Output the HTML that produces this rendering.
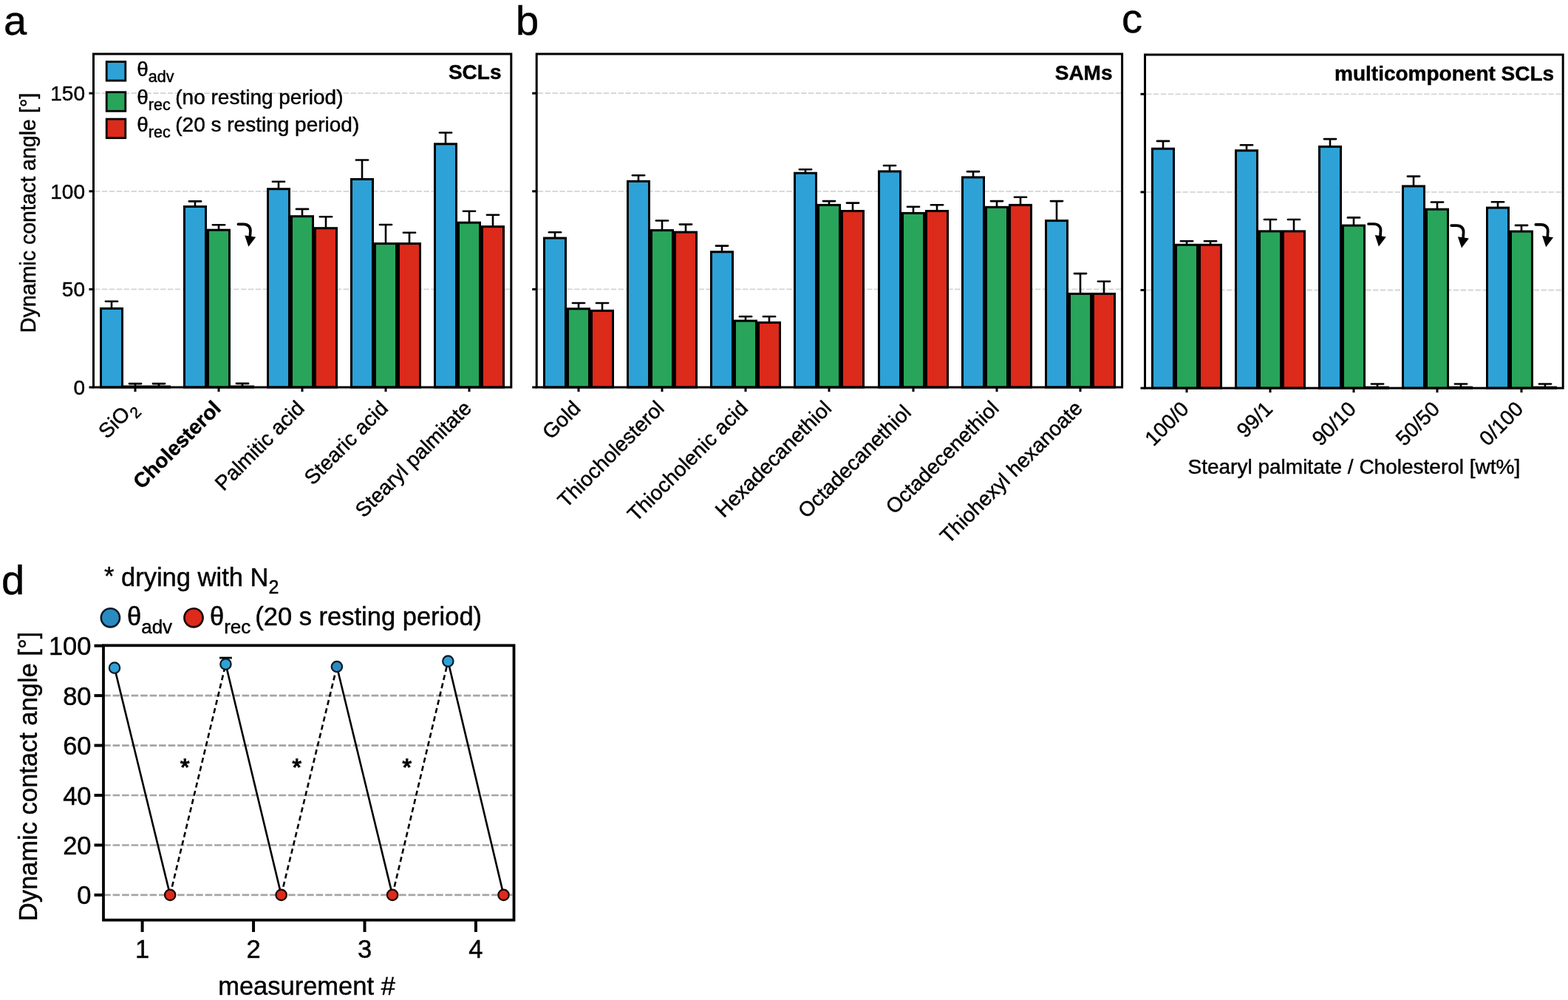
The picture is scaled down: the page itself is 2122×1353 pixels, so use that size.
<!DOCTYPE html>
<html><head><meta charset="utf-8"><title>Dynamic contact angle</title><style>html,body{margin:0;padding:0;background:#fff;width:2122px;height:1353px;overflow:hidden}svg{display:block}text{fill:#000;stroke:#000;stroke-width:0.45px}</style></head><body>
<svg width="2122" height="1353" viewBox="0 0 2122 1353" font-family="&quot;Liberation Sans&quot;, Arial, Helvetica, sans-serif">
<rect width="2122" height="1353" fill="#fff"/>
<text x="5" y="47" font-size="56">a</text>
<text x="698" y="46.5" font-size="56">b</text>
<text x="1518" y="44.3" font-size="56">c</text>
<text x="2" y="803.5" font-size="56">d</text>
<line x1="128" y1="391.4" x2="690.3" y2="391.4" stroke="#d4d4d4" stroke-width="1.8" stroke-dasharray="7.4 2.5"/>
<line x1="128" y1="258.8" x2="690.3" y2="258.8" stroke="#d4d4d4" stroke-width="1.8" stroke-dasharray="7.4 2.5"/>
<line x1="128" y1="126.2" x2="690.3" y2="126.2" stroke="#d4d4d4" stroke-width="1.8" stroke-dasharray="7.4 2.5"/>
<rect x="136.5" y="417.4" width="29" height="106.6" fill="#2ea2d6" stroke="#000" stroke-width="3"/>
<line x1="151" y1="416.4" x2="151" y2="407.7" stroke="#000" stroke-width="2.6"/>
<line x1="142.9" y1="407.7" x2="159.1" y2="407.7" stroke="#000" stroke-width="2.6" stroke-linecap="round"/>
<line x1="167" y1="523.5" x2="199" y2="523.5" stroke="#000" stroke-width="4"/>
<line x1="183" y1="522.5" x2="183" y2="519.1" stroke="#000" stroke-width="2.6"/>
<line x1="174.9" y1="519.1" x2="191.1" y2="519.1" stroke="#000" stroke-width="2.6" stroke-linecap="round"/>
<line x1="199" y1="523.5" x2="231" y2="523.5" stroke="#000" stroke-width="4"/>
<line x1="215" y1="522.5" x2="215" y2="519.1" stroke="#000" stroke-width="2.6"/>
<line x1="206.9" y1="519.1" x2="223.1" y2="519.1" stroke="#000" stroke-width="2.6" stroke-linecap="round"/>
<line x1="183" y1="524" x2="183" y2="530" stroke="#000" stroke-width="3"/>
<rect x="249.5" y="279.5" width="29" height="244.5" fill="#2ea2d6" stroke="#000" stroke-width="3"/>
<line x1="264" y1="278.5" x2="264" y2="272.4" stroke="#000" stroke-width="2.6"/>
<line x1="255.9" y1="272.4" x2="272.1" y2="272.4" stroke="#000" stroke-width="2.6" stroke-linecap="round"/>
<rect x="281.5" y="311.2" width="29" height="212.8" fill="#28a55a" stroke="#000" stroke-width="3"/>
<line x1="296" y1="310.2" x2="296" y2="304.2" stroke="#000" stroke-width="2.6"/>
<line x1="287.9" y1="304.2" x2="304.1" y2="304.2" stroke="#000" stroke-width="2.6" stroke-linecap="round"/>
<line x1="312" y1="523.5" x2="344" y2="523.5" stroke="#000" stroke-width="4"/>
<line x1="328" y1="522.5" x2="328" y2="518.9" stroke="#000" stroke-width="2.6"/>
<line x1="319.9" y1="518.9" x2="336.1" y2="518.9" stroke="#000" stroke-width="2.6" stroke-linecap="round"/>
<line x1="296" y1="524" x2="296" y2="530" stroke="#000" stroke-width="3"/>
<rect x="362.5" y="255.7" width="29" height="268.3" fill="#2ea2d6" stroke="#000" stroke-width="3"/>
<line x1="377" y1="254.7" x2="377" y2="245.8" stroke="#000" stroke-width="2.6"/>
<line x1="368.9" y1="245.8" x2="385.1" y2="245.8" stroke="#000" stroke-width="2.6" stroke-linecap="round"/>
<rect x="394.5" y="292.7" width="29" height="231.3" fill="#28a55a" stroke="#000" stroke-width="3"/>
<line x1="409" y1="291.7" x2="409" y2="282.9" stroke="#000" stroke-width="2.6"/>
<line x1="400.9" y1="282.9" x2="417.1" y2="282.9" stroke="#000" stroke-width="2.6" stroke-linecap="round"/>
<rect x="426.5" y="308.7" width="29" height="215.3" fill="#dc2a1b" stroke="#000" stroke-width="3"/>
<line x1="441" y1="307.7" x2="441" y2="293.2" stroke="#000" stroke-width="2.6"/>
<line x1="432.9" y1="293.2" x2="449.1" y2="293.2" stroke="#000" stroke-width="2.6" stroke-linecap="round"/>
<line x1="409" y1="524" x2="409" y2="530" stroke="#000" stroke-width="3"/>
<rect x="475.5" y="242.5" width="29" height="281.5" fill="#2ea2d6" stroke="#000" stroke-width="3"/>
<line x1="490" y1="241.5" x2="490" y2="216.5" stroke="#000" stroke-width="2.6"/>
<line x1="481.9" y1="216.5" x2="498.1" y2="216.5" stroke="#000" stroke-width="2.6" stroke-linecap="round"/>
<rect x="507.5" y="329.6" width="29" height="194.4" fill="#28a55a" stroke="#000" stroke-width="3"/>
<line x1="522" y1="328.6" x2="522" y2="304" stroke="#000" stroke-width="2.6"/>
<line x1="513.9" y1="304" x2="530.1" y2="304" stroke="#000" stroke-width="2.6" stroke-linecap="round"/>
<rect x="539.5" y="329.6" width="29" height="194.4" fill="#dc2a1b" stroke="#000" stroke-width="3"/>
<line x1="554" y1="328.6" x2="554" y2="314.7" stroke="#000" stroke-width="2.6"/>
<line x1="545.9" y1="314.7" x2="562.1" y2="314.7" stroke="#000" stroke-width="2.6" stroke-linecap="round"/>
<line x1="522" y1="524" x2="522" y2="530" stroke="#000" stroke-width="3"/>
<rect x="588.5" y="194.8" width="29" height="329.2" fill="#2ea2d6" stroke="#000" stroke-width="3"/>
<line x1="603" y1="193.8" x2="603" y2="179.5" stroke="#000" stroke-width="2.6"/>
<line x1="594.9" y1="179.5" x2="611.1" y2="179.5" stroke="#000" stroke-width="2.6" stroke-linecap="round"/>
<rect x="620.5" y="301.2" width="29" height="222.8" fill="#28a55a" stroke="#000" stroke-width="3"/>
<line x1="635" y1="300.2" x2="635" y2="285.7" stroke="#000" stroke-width="2.6"/>
<line x1="626.9" y1="285.7" x2="643.1" y2="285.7" stroke="#000" stroke-width="2.6" stroke-linecap="round"/>
<rect x="652.5" y="306.6" width="29" height="217.4" fill="#dc2a1b" stroke="#000" stroke-width="3"/>
<line x1="667" y1="305.6" x2="667" y2="290.7" stroke="#000" stroke-width="2.6"/>
<line x1="658.9" y1="290.7" x2="675.1" y2="290.7" stroke="#000" stroke-width="2.6" stroke-linecap="round"/>
<line x1="635" y1="524" x2="635" y2="530" stroke="#000" stroke-width="3"/>
<rect x="126.5" y="73" width="565.3" height="451" fill="none" stroke="#000" stroke-width="3"/>
<line x1="120.5" y1="524" x2="126.5" y2="524" stroke="#000" stroke-width="3"/>
<text x="115" y="534" text-anchor="end" font-size="28">0</text>
<line x1="120.5" y1="391.4" x2="126.5" y2="391.4" stroke="#000" stroke-width="3"/>
<text x="115" y="401.4" text-anchor="end" font-size="28">50</text>
<line x1="120.5" y1="258.8" x2="126.5" y2="258.8" stroke="#000" stroke-width="3"/>
<text x="115" y="268.8" text-anchor="end" font-size="28">100</text>
<line x1="120.5" y1="126.2" x2="126.5" y2="126.2" stroke="#000" stroke-width="3"/>
<text x="115" y="136.2" text-anchor="end" font-size="28">150</text>
<text x="678.5" y="107.3" text-anchor="end" font-size="28" font-weight="bold">SCLs</text>
<text x="186.47" y="552.94" text-anchor="end" font-size="28" transform="rotate(-45 186.47 552.94)">SiO<tspan font-size="21" dy="8.5" dx="0.6">2</tspan></text>
<text x="300.59" y="554" text-anchor="end" font-size="28" font-weight="bold" transform="rotate(-45 300.59 554)">Cholesterol</text>
<text x="413.65" y="554" text-anchor="end" font-size="28" transform="rotate(-45 413.65 554)">Palmitic acid</text>
<text x="526.71" y="554" text-anchor="end" font-size="28" transform="rotate(-45 526.71 554)">Stearic acid</text>
<text x="639.77" y="554" text-anchor="end" font-size="28" transform="rotate(-45 639.77 554)">Stearyl palmitate</text>
<path d="M322.4 303.3 L329.4 303.3 Q338.9 303.6 338.9 312.3 L338.4 319.3" fill="none" stroke="#000" stroke-width="3.7" stroke-linecap="round"/><polygon points="331.2,318.4 346.2,320.7 336.3,333.8" fill="#000"/>
<rect x="144.2" y="83.5" width="25.6" height="25.6" fill="#2ea2d6" stroke="#000" stroke-width="2.8"/>
<text x="185.2" y="102.7" font-size="28">θ<tspan font-size="21.5" dy="8.4">adv</tspan><tspan dy="-8.4" dx="-1.2"></tspan></text>
<rect x="144.2" y="124.7" width="25.6" height="25.6" fill="#28a55a" stroke="#000" stroke-width="2.8"/>
<text x="185.2" y="140.5" font-size="28">θ<tspan font-size="21.5" dy="8.4">rec</tspan><tspan dy="-8.4" dx="-1.2"> (no resting period)</tspan></text>
<rect x="144.2" y="161.1" width="25.6" height="25.6" fill="#dc2a1b" stroke="#000" stroke-width="2.8"/>
<text x="185.2" y="177.9" font-size="28">θ<tspan font-size="21.5" dy="8.4">rec</tspan><tspan dy="-8.4" dx="-1.2"> (20 s resting period)</tspan></text>
<text x="0" y="0" font-size="28.6" text-anchor="middle" transform="translate(48 288) rotate(-90)">Dynamic contact angle [°]</text>
<line x1="727.7" y1="391.4" x2="1517.1" y2="391.4" stroke="#d4d4d4" stroke-width="1.8" stroke-dasharray="7.4 2.5"/>
<line x1="727.7" y1="258.8" x2="1517.1" y2="258.8" stroke="#d4d4d4" stroke-width="1.8" stroke-dasharray="7.4 2.5"/>
<line x1="727.7" y1="126.2" x2="1517.1" y2="126.2" stroke="#d4d4d4" stroke-width="1.8" stroke-dasharray="7.4 2.5"/>
<rect x="736.5" y="322.1" width="29" height="201.9" fill="#2ea2d6" stroke="#000" stroke-width="3"/>
<line x1="751" y1="321.1" x2="751" y2="314.3" stroke="#000" stroke-width="2.6"/>
<line x1="742.9" y1="314.3" x2="759.1" y2="314.3" stroke="#000" stroke-width="2.6" stroke-linecap="round"/>
<rect x="768.5" y="417.8" width="29" height="106.2" fill="#28a55a" stroke="#000" stroke-width="3"/>
<line x1="783" y1="416.8" x2="783" y2="410" stroke="#000" stroke-width="2.6"/>
<line x1="774.9" y1="410" x2="791.1" y2="410" stroke="#000" stroke-width="2.6" stroke-linecap="round"/>
<rect x="800.5" y="420.4" width="29" height="103.6" fill="#dc2a1b" stroke="#000" stroke-width="3"/>
<line x1="815" y1="419.4" x2="815" y2="410" stroke="#000" stroke-width="2.6"/>
<line x1="806.9" y1="410" x2="823.1" y2="410" stroke="#000" stroke-width="2.6" stroke-linecap="round"/>
<line x1="783" y1="524" x2="783" y2="530" stroke="#000" stroke-width="3"/>
<rect x="849.5" y="245.3" width="29" height="278.7" fill="#2ea2d6" stroke="#000" stroke-width="3"/>
<line x1="864" y1="244.3" x2="864" y2="237.3" stroke="#000" stroke-width="2.6"/>
<line x1="855.9" y1="237.3" x2="872.1" y2="237.3" stroke="#000" stroke-width="2.6" stroke-linecap="round"/>
<rect x="881.5" y="311.6" width="29" height="212.4" fill="#28a55a" stroke="#000" stroke-width="3"/>
<line x1="896" y1="310.6" x2="896" y2="298.5" stroke="#000" stroke-width="2.6"/>
<line x1="887.9" y1="298.5" x2="904.1" y2="298.5" stroke="#000" stroke-width="2.6" stroke-linecap="round"/>
<rect x="913.5" y="314.1" width="29" height="209.9" fill="#dc2a1b" stroke="#000" stroke-width="3"/>
<line x1="928" y1="313.1" x2="928" y2="303.6" stroke="#000" stroke-width="2.6"/>
<line x1="919.9" y1="303.6" x2="936.1" y2="303.6" stroke="#000" stroke-width="2.6" stroke-linecap="round"/>
<line x1="896" y1="524" x2="896" y2="530" stroke="#000" stroke-width="3"/>
<rect x="962.5" y="340.8" width="29" height="183.2" fill="#2ea2d6" stroke="#000" stroke-width="3"/>
<line x1="977" y1="339.8" x2="977" y2="332.6" stroke="#000" stroke-width="2.6"/>
<line x1="968.9" y1="332.6" x2="985.1" y2="332.6" stroke="#000" stroke-width="2.6" stroke-linecap="round"/>
<rect x="994.5" y="434.1" width="29" height="89.9" fill="#28a55a" stroke="#000" stroke-width="3"/>
<line x1="1009" y1="433.1" x2="1009" y2="428.3" stroke="#000" stroke-width="2.6"/>
<line x1="1000.9" y1="428.3" x2="1017.1" y2="428.3" stroke="#000" stroke-width="2.6" stroke-linecap="round"/>
<rect x="1026.5" y="436.4" width="29" height="87.6" fill="#dc2a1b" stroke="#000" stroke-width="3"/>
<line x1="1041" y1="435.4" x2="1041" y2="428.3" stroke="#000" stroke-width="2.6"/>
<line x1="1032.9" y1="428.3" x2="1049.1" y2="428.3" stroke="#000" stroke-width="2.6" stroke-linecap="round"/>
<line x1="1009" y1="524" x2="1009" y2="530" stroke="#000" stroke-width="3"/>
<rect x="1075.5" y="234.2" width="29" height="289.8" fill="#2ea2d6" stroke="#000" stroke-width="3"/>
<line x1="1090" y1="233.2" x2="1090" y2="229.2" stroke="#000" stroke-width="2.6"/>
<line x1="1081.9" y1="229.2" x2="1098.1" y2="229.2" stroke="#000" stroke-width="2.6" stroke-linecap="round"/>
<rect x="1107.5" y="277.4" width="29" height="246.6" fill="#28a55a" stroke="#000" stroke-width="3"/>
<line x1="1122" y1="276.4" x2="1122" y2="272.1" stroke="#000" stroke-width="2.6"/>
<line x1="1113.9" y1="272.1" x2="1130.1" y2="272.1" stroke="#000" stroke-width="2.6" stroke-linecap="round"/>
<rect x="1139.5" y="285.5" width="29" height="238.5" fill="#dc2a1b" stroke="#000" stroke-width="3"/>
<line x1="1154" y1="284.5" x2="1154" y2="274.6" stroke="#000" stroke-width="2.6"/>
<line x1="1145.9" y1="274.6" x2="1162.1" y2="274.6" stroke="#000" stroke-width="2.6" stroke-linecap="round"/>
<line x1="1122" y1="524" x2="1122" y2="530" stroke="#000" stroke-width="3"/>
<rect x="1189.5" y="231.9" width="29" height="292.1" fill="#2ea2d6" stroke="#000" stroke-width="3"/>
<line x1="1204" y1="230.9" x2="1204" y2="224" stroke="#000" stroke-width="2.6"/>
<line x1="1195.9" y1="224" x2="1212.1" y2="224" stroke="#000" stroke-width="2.6" stroke-linecap="round"/>
<rect x="1221.5" y="288.4" width="29" height="235.6" fill="#28a55a" stroke="#000" stroke-width="3"/>
<line x1="1236" y1="287.4" x2="1236" y2="279.8" stroke="#000" stroke-width="2.6"/>
<line x1="1227.9" y1="279.8" x2="1244.1" y2="279.8" stroke="#000" stroke-width="2.6" stroke-linecap="round"/>
<rect x="1253.5" y="285.5" width="29" height="238.5" fill="#dc2a1b" stroke="#000" stroke-width="3"/>
<line x1="1268" y1="284.5" x2="1268" y2="277.3" stroke="#000" stroke-width="2.6"/>
<line x1="1259.9" y1="277.3" x2="1276.1" y2="277.3" stroke="#000" stroke-width="2.6" stroke-linecap="round"/>
<line x1="1236" y1="524" x2="1236" y2="530" stroke="#000" stroke-width="3"/>
<rect x="1302.5" y="239.9" width="29" height="284.1" fill="#2ea2d6" stroke="#000" stroke-width="3"/>
<line x1="1317" y1="238.9" x2="1317" y2="232.1" stroke="#000" stroke-width="2.6"/>
<line x1="1308.9" y1="232.1" x2="1325.1" y2="232.1" stroke="#000" stroke-width="2.6" stroke-linecap="round"/>
<rect x="1334.5" y="280.3" width="29" height="243.7" fill="#28a55a" stroke="#000" stroke-width="3"/>
<line x1="1349" y1="279.3" x2="1349" y2="272.1" stroke="#000" stroke-width="2.6"/>
<line x1="1340.9" y1="272.1" x2="1357.1" y2="272.1" stroke="#000" stroke-width="2.6" stroke-linecap="round"/>
<rect x="1366.5" y="277.4" width="29" height="246.6" fill="#dc2a1b" stroke="#000" stroke-width="3"/>
<line x1="1381" y1="276.4" x2="1381" y2="266.7" stroke="#000" stroke-width="2.6"/>
<line x1="1372.9" y1="266.7" x2="1389.1" y2="266.7" stroke="#000" stroke-width="2.6" stroke-linecap="round"/>
<line x1="1349" y1="524" x2="1349" y2="530" stroke="#000" stroke-width="3"/>
<rect x="1415.5" y="298.6" width="29" height="225.4" fill="#2ea2d6" stroke="#000" stroke-width="3"/>
<line x1="1430" y1="297.6" x2="1430" y2="272.1" stroke="#000" stroke-width="2.6"/>
<line x1="1421.9" y1="272.1" x2="1438.1" y2="272.1" stroke="#000" stroke-width="2.6" stroke-linecap="round"/>
<rect x="1447.5" y="397.5" width="29" height="126.5" fill="#28a55a" stroke="#000" stroke-width="3"/>
<line x1="1462" y1="396.5" x2="1462" y2="370.1" stroke="#000" stroke-width="2.6"/>
<line x1="1453.9" y1="370.1" x2="1470.1" y2="370.1" stroke="#000" stroke-width="2.6" stroke-linecap="round"/>
<rect x="1479.5" y="397.5" width="29" height="126.5" fill="#dc2a1b" stroke="#000" stroke-width="3"/>
<line x1="1494" y1="396.5" x2="1494" y2="380.7" stroke="#000" stroke-width="2.6"/>
<line x1="1485.9" y1="380.7" x2="1502.1" y2="380.7" stroke="#000" stroke-width="2.6" stroke-linecap="round"/>
<line x1="1462" y1="524" x2="1462" y2="530" stroke="#000" stroke-width="3"/>
<rect x="726.2" y="73" width="792.4" height="451" fill="none" stroke="#000" stroke-width="3"/>
<line x1="720.2" y1="524" x2="726.2" y2="524" stroke="#000" stroke-width="3"/>
<line x1="720.2" y1="391.4" x2="726.2" y2="391.4" stroke="#000" stroke-width="3"/>
<line x1="720.2" y1="258.8" x2="726.2" y2="258.8" stroke="#000" stroke-width="3"/>
<line x1="720.2" y1="126.2" x2="726.2" y2="126.2" stroke="#000" stroke-width="3"/>
<text x="1505.5" y="108.2" text-anchor="end" font-size="28" font-weight="bold">SAMs</text>
<text x="787.3" y="554" text-anchor="end" font-size="28" transform="rotate(-45 787.3 554)">Gold</text>
<text x="900.5" y="554" text-anchor="end" font-size="28" transform="rotate(-45 900.5 554)">Thiocholesterol</text>
<text x="1013.7" y="554" text-anchor="end" font-size="28" transform="rotate(-45 1013.7 554)">Thiocholenic acid</text>
<text x="1126.9" y="554" text-anchor="end" font-size="28" transform="rotate(-45 1126.9 554)">Hexadecanethiol</text>
<text x="1240.1" y="554" text-anchor="end" font-size="28" transform="rotate(-45 1240.1 554)">Octadecanethiol </text>
<text x="1353.3" y="554" text-anchor="end" font-size="28" transform="rotate(-45 1353.3 554)">Octadecenethiol</text>
<text x="1466.5" y="554" text-anchor="end" font-size="28" transform="rotate(-45 1466.5 554)">Thiohexyl hexanoate</text>
<line x1="1551" y1="392.5" x2="2113.7" y2="392.5" stroke="#d4d4d4" stroke-width="1.8" stroke-dasharray="7.4 2.5"/>
<line x1="1551" y1="259.9" x2="2113.7" y2="259.9" stroke="#d4d4d4" stroke-width="1.8" stroke-dasharray="7.4 2.5"/>
<line x1="1551" y1="127.3" x2="2113.7" y2="127.3" stroke="#d4d4d4" stroke-width="1.8" stroke-dasharray="7.4 2.5"/>
<rect x="1559.5" y="201.2" width="29" height="323.9" fill="#2ea2d6" stroke="#000" stroke-width="3"/>
<line x1="1574" y1="200.2" x2="1574" y2="190.9" stroke="#000" stroke-width="2.6"/>
<line x1="1565.9" y1="190.9" x2="1582.1" y2="190.9" stroke="#000" stroke-width="2.6" stroke-linecap="round"/>
<rect x="1591.5" y="331.3" width="29" height="193.8" fill="#28a55a" stroke="#000" stroke-width="3"/>
<line x1="1606" y1="330.3" x2="1606" y2="326.2" stroke="#000" stroke-width="2.6"/>
<line x1="1597.9" y1="326.2" x2="1614.1" y2="326.2" stroke="#000" stroke-width="2.6" stroke-linecap="round"/>
<rect x="1623.5" y="331.3" width="29" height="193.8" fill="#dc2a1b" stroke="#000" stroke-width="3"/>
<line x1="1638" y1="330.3" x2="1638" y2="326.2" stroke="#000" stroke-width="2.6"/>
<line x1="1629.9" y1="326.2" x2="1646.1" y2="326.2" stroke="#000" stroke-width="2.6" stroke-linecap="round"/>
<line x1="1606" y1="525.1" x2="1606" y2="531.1" stroke="#000" stroke-width="3"/>
<rect x="1672.5" y="203.7" width="29" height="321.4" fill="#2ea2d6" stroke="#000" stroke-width="3"/>
<line x1="1687" y1="202.7" x2="1687" y2="196.2" stroke="#000" stroke-width="2.6"/>
<line x1="1678.9" y1="196.2" x2="1695.1" y2="196.2" stroke="#000" stroke-width="2.6" stroke-linecap="round"/>
<rect x="1704.5" y="312.9" width="29" height="212.2" fill="#28a55a" stroke="#000" stroke-width="3"/>
<line x1="1719" y1="311.9" x2="1719" y2="297" stroke="#000" stroke-width="2.6"/>
<line x1="1710.9" y1="297" x2="1727.1" y2="297" stroke="#000" stroke-width="2.6" stroke-linecap="round"/>
<rect x="1736.5" y="312.9" width="29" height="212.2" fill="#dc2a1b" stroke="#000" stroke-width="3"/>
<line x1="1751" y1="311.9" x2="1751" y2="297" stroke="#000" stroke-width="2.6"/>
<line x1="1742.9" y1="297" x2="1759.1" y2="297" stroke="#000" stroke-width="2.6" stroke-linecap="round"/>
<line x1="1719" y1="525.1" x2="1719" y2="531.1" stroke="#000" stroke-width="3"/>
<rect x="1785.5" y="198.4" width="29" height="326.7" fill="#2ea2d6" stroke="#000" stroke-width="3"/>
<line x1="1800" y1="197.4" x2="1800" y2="188.1" stroke="#000" stroke-width="2.6"/>
<line x1="1791.9" y1="188.1" x2="1808.1" y2="188.1" stroke="#000" stroke-width="2.6" stroke-linecap="round"/>
<rect x="1817.5" y="305.1" width="29" height="220" fill="#28a55a" stroke="#000" stroke-width="3"/>
<line x1="1832" y1="304.1" x2="1832" y2="294.4" stroke="#000" stroke-width="2.6"/>
<line x1="1823.9" y1="294.4" x2="1840.1" y2="294.4" stroke="#000" stroke-width="2.6" stroke-linecap="round"/>
<line x1="1848" y1="524.6" x2="1880" y2="524.6" stroke="#000" stroke-width="4"/>
<line x1="1864" y1="523.6" x2="1864" y2="519.5" stroke="#000" stroke-width="2.6"/>
<line x1="1855.9" y1="519.5" x2="1872.1" y2="519.5" stroke="#000" stroke-width="2.6" stroke-linecap="round"/>
<line x1="1832" y1="525.1" x2="1832" y2="531.1" stroke="#000" stroke-width="3"/>
<rect x="1898.5" y="251.9" width="29" height="273.2" fill="#2ea2d6" stroke="#000" stroke-width="3"/>
<line x1="1913" y1="250.9" x2="1913" y2="238.6" stroke="#000" stroke-width="2.6"/>
<line x1="1904.9" y1="238.6" x2="1921.1" y2="238.6" stroke="#000" stroke-width="2.6" stroke-linecap="round"/>
<rect x="1930.5" y="283.2" width="29" height="241.9" fill="#28a55a" stroke="#000" stroke-width="3"/>
<line x1="1945" y1="282.2" x2="1945" y2="273.5" stroke="#000" stroke-width="2.6"/>
<line x1="1936.9" y1="273.5" x2="1953.1" y2="273.5" stroke="#000" stroke-width="2.6" stroke-linecap="round"/>
<line x1="1961" y1="524.6" x2="1993" y2="524.6" stroke="#000" stroke-width="4"/>
<line x1="1977" y1="523.6" x2="1977" y2="519.5" stroke="#000" stroke-width="2.6"/>
<line x1="1968.9" y1="519.5" x2="1985.1" y2="519.5" stroke="#000" stroke-width="2.6" stroke-linecap="round"/>
<line x1="1945" y1="525.1" x2="1945" y2="531.1" stroke="#000" stroke-width="3"/>
<rect x="2012.5" y="281.1" width="29" height="244" fill="#2ea2d6" stroke="#000" stroke-width="3"/>
<line x1="2027" y1="280.1" x2="2027" y2="273.2" stroke="#000" stroke-width="2.6"/>
<line x1="2018.9" y1="273.2" x2="2035.1" y2="273.2" stroke="#000" stroke-width="2.6" stroke-linecap="round"/>
<rect x="2044.5" y="313.1" width="29" height="212" fill="#28a55a" stroke="#000" stroke-width="3"/>
<line x1="2059" y1="312.1" x2="2059" y2="304.9" stroke="#000" stroke-width="2.6"/>
<line x1="2050.9" y1="304.9" x2="2067.1" y2="304.9" stroke="#000" stroke-width="2.6" stroke-linecap="round"/>
<line x1="2075" y1="524.6" x2="2107" y2="524.6" stroke="#000" stroke-width="4"/>
<line x1="2091" y1="523.6" x2="2091" y2="519.5" stroke="#000" stroke-width="2.6"/>
<line x1="2082.9" y1="519.5" x2="2099.1" y2="519.5" stroke="#000" stroke-width="2.6" stroke-linecap="round"/>
<line x1="2059" y1="525.1" x2="2059" y2="531.1" stroke="#000" stroke-width="3"/>
<rect x="1549.5" y="74" width="565.7" height="451.1" fill="none" stroke="#000" stroke-width="3"/>
<line x1="1543.5" y1="525.1" x2="1549.5" y2="525.1" stroke="#000" stroke-width="3"/>
<line x1="1543.5" y1="392.5" x2="1549.5" y2="392.5" stroke="#000" stroke-width="3"/>
<line x1="1543.5" y1="259.9" x2="1549.5" y2="259.9" stroke="#000" stroke-width="3"/>
<line x1="1543.5" y1="127.3" x2="1549.5" y2="127.3" stroke="#000" stroke-width="3"/>
<text x="2103.2" y="108.6" text-anchor="end" font-size="28" font-weight="bold">multicomponent SCLs</text>
<text x="1610.57" y="555.1" text-anchor="end" font-size="28" transform="rotate(-45 1610.57 555.1)">100/0</text>
<text x="1723.71" y="555.1" text-anchor="end" font-size="28" transform="rotate(-45 1723.71 555.1)">99/1</text>
<text x="1836.85" y="555.1" text-anchor="end" font-size="28" transform="rotate(-45 1836.85 555.1)">90/10</text>
<text x="1949.99" y="555.1" text-anchor="end" font-size="28" transform="rotate(-45 1949.99 555.1)">50/50</text>
<text x="2063.13" y="555.1" text-anchor="end" font-size="28" transform="rotate(-45 2063.13 555.1)">0/100</text>
<path d="M1852 303 L1859 303 Q1868.5 303.3 1868.5 312 L1868 319" fill="none" stroke="#000" stroke-width="3.7" stroke-linecap="round"/><polygon points="1860.8,318.1 1875.8,320.4 1865.9,333.5" fill="#000"/>
<path d="M1964.1 305.1 L1971.1 305.1 Q1980.6 305.4 1980.6 314.1 L1980.1 321.1" fill="none" stroke="#000" stroke-width="3.7" stroke-linecap="round"/><polygon points="1972.9,320.2 1987.9,322.5 1978,335.6" fill="#000"/>
<path d="M2078.3 303.8 L2085.3 303.8 Q2094.8 304.1 2094.8 312.8 L2094.3 319.8" fill="none" stroke="#000" stroke-width="3.7" stroke-linecap="round"/><polygon points="2087.1,318.9 2102.1,321.2 2092.2,334.3" fill="#000"/>
<text x="1832.4" y="641" font-size="28" text-anchor="middle">Stearyl palmitate / Cholesterol [wt%]</text>
<line x1="140.1" y1="1210.9" x2="693.5" y2="1210.9" stroke="#a5a5a5" stroke-width="2.6" stroke-dasharray="9.6 2.9"/>
<line x1="140.1" y1="1143.46" x2="693.5" y2="1143.46" stroke="#a5a5a5" stroke-width="2.6" stroke-dasharray="9.6 2.9"/>
<line x1="140.1" y1="1076.02" x2="693.5" y2="1076.02" stroke="#a5a5a5" stroke-width="2.6" stroke-dasharray="9.6 2.9"/>
<line x1="140.1" y1="1008.58" x2="693.5" y2="1008.58" stroke="#a5a5a5" stroke-width="2.6" stroke-dasharray="9.6 2.9"/>
<line x1="140.1" y1="941.14" x2="693.5" y2="941.14" stroke="#a5a5a5" stroke-width="2.6" stroke-dasharray="9.6 2.9"/>
<line x1="155" y1="903.6" x2="230.2" y2="1210.9" stroke="#000" stroke-width="2.6"/>
<line x1="230.2" y1="1210.9" x2="305.45" y2="898.6" stroke="#000" stroke-width="2.6" stroke-dasharray="7 4.5"/>
<line x1="305.45" y1="898.6" x2="380.65" y2="1210.9" stroke="#000" stroke-width="2.6"/>
<line x1="380.65" y1="1210.9" x2="455.9" y2="902" stroke="#000" stroke-width="2.6" stroke-dasharray="7 4.5"/>
<line x1="455.9" y1="902" x2="531.1" y2="1210.9" stroke="#000" stroke-width="2.6"/>
<line x1="531.1" y1="1210.9" x2="606.35" y2="894.6" stroke="#000" stroke-width="2.6" stroke-dasharray="7 4.5"/>
<line x1="606.35" y1="894.6" x2="681.55" y2="1210.9" stroke="#000" stroke-width="2.6"/>
<line x1="305.45" y1="898.6" x2="305.45" y2="890.1" stroke="#000" stroke-width="2.6"/>
<line x1="297.05" y1="890.1" x2="313.85" y2="890.1" stroke="#000" stroke-width="2.8"/>
<circle cx="155" cy="903.6" r="7.2" fill="#2ea2d6" stroke="#0b1a26" stroke-width="2.2"/>
<circle cx="230.2" cy="1210.9" r="7.2" fill="#dc2a1b" stroke="#1a0505" stroke-width="2.2"/>
<circle cx="305.45" cy="898.6" r="7.2" fill="#2ea2d6" stroke="#0b1a26" stroke-width="2.2"/>
<circle cx="380.65" cy="1210.9" r="7.2" fill="#dc2a1b" stroke="#1a0505" stroke-width="2.2"/>
<circle cx="455.9" cy="902" r="7.2" fill="#2a8bc0" stroke="#0b1a26" stroke-width="2.2"/>
<circle cx="531.1" cy="1210.9" r="7.2" fill="#dc2a1b" stroke="#1a0505" stroke-width="2.2"/>
<circle cx="606.35" cy="894.6" r="7.2" fill="#2ea2d6" stroke="#0b1a26" stroke-width="2.2"/>
<circle cx="681.55" cy="1210.9" r="7.2" fill="#dc2a1b" stroke="#1a0505" stroke-width="2.2"/>
<text x="250.2" y="1048.9" font-size="32" text-anchor="middle" style="stroke-width:1.3px">*</text>
<text x="401.7" y="1048.9" font-size="32" text-anchor="middle" style="stroke-width:1.3px">*</text>
<text x="550.8" y="1048.9" font-size="32" text-anchor="middle" style="stroke-width:1.3px">*</text>
<rect x="140" y="873.3" width="555.5" height="371.5" fill="none" stroke="#000" stroke-width="3.8"/>
<line x1="127.5" y1="1210.9" x2="140" y2="1210.9" stroke="#000" stroke-width="4"/>
<text x="123.5" y="1223.4" font-size="34.5" text-anchor="end">0</text>
<line x1="127.5" y1="1143.46" x2="140" y2="1143.46" stroke="#000" stroke-width="4"/>
<text x="123.5" y="1155.96" font-size="34.5" text-anchor="end">20</text>
<line x1="127.5" y1="1076.02" x2="140" y2="1076.02" stroke="#000" stroke-width="4"/>
<text x="123.5" y="1088.52" font-size="34.5" text-anchor="end">40</text>
<line x1="127.5" y1="1008.58" x2="140" y2="1008.58" stroke="#000" stroke-width="4"/>
<text x="123.5" y="1021.08" font-size="34.5" text-anchor="end">60</text>
<line x1="127.5" y1="941.14" x2="140" y2="941.14" stroke="#000" stroke-width="4"/>
<text x="123.5" y="953.64" font-size="34.5" text-anchor="end">80</text>
<line x1="127.5" y1="873.7" x2="140" y2="873.7" stroke="#000" stroke-width="4"/>
<text x="123.5" y="886.2" font-size="34.5" text-anchor="end">100</text>
<line x1="192.6" y1="1244.8" x2="192.6" y2="1261" stroke="#000" stroke-width="4"/>
<text x="192.6" y="1296" font-size="34.5" text-anchor="middle">1</text>
<line x1="343.05" y1="1244.8" x2="343.05" y2="1261" stroke="#000" stroke-width="4"/>
<text x="343.05" y="1296" font-size="34.5" text-anchor="middle">2</text>
<line x1="493.5" y1="1244.8" x2="493.5" y2="1261" stroke="#000" stroke-width="4"/>
<text x="493.5" y="1296" font-size="34.5" text-anchor="middle">3</text>
<line x1="643.95" y1="1244.8" x2="643.95" y2="1261" stroke="#000" stroke-width="4"/>
<text x="643.95" y="1296" font-size="34.5" text-anchor="middle">4</text>
<text x="415" y="1346" font-size="34.5" text-anchor="middle">measurement #</text>
<text x="0" y="0" font-size="34.5" text-anchor="middle" transform="translate(50 1050.5) rotate(-90)">Dynamic contact angle [°]</text>
<text x="141" y="793.2" font-size="34.5"><tspan dy="-2.4">*</tspan><tspan dy="2.4"> drying with N</tspan><tspan font-size="25" dy="9.5">2</tspan></text>
<circle cx="149.4" cy="835.8" r="12.6" fill="#2a8bc0" stroke="#0b1a26" stroke-width="2.6"/>
<text x="172" y="846.4" font-size="34.5">θ<tspan font-size="26" dy="10.2">adv</tspan></text>
<circle cx="262" cy="835.8" r="12.6" fill="#dc2a1b" stroke="#1a0505" stroke-width="2.6"/>
<text x="284" y="846.4" font-size="34.5">θ<tspan font-size="26" dy="10.2">rec</tspan><tspan dy="-10.2" dx="-3.6"> (20 s resting period)</tspan></text>
</svg>
</body></html>
